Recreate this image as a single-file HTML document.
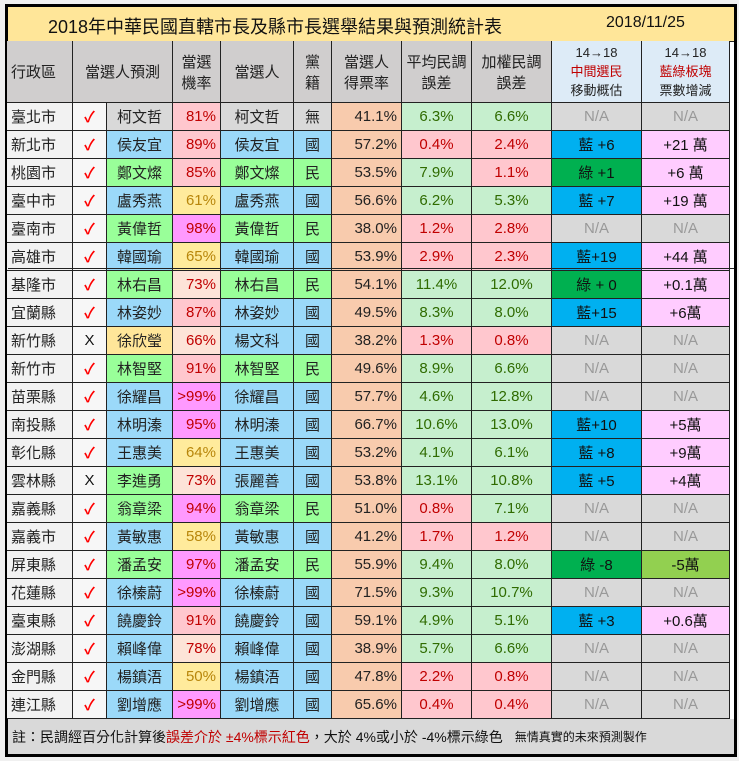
<!DOCTYPE html>
<html><head><meta charset="utf-8">
<style>
body{margin:0;background:#f0f0f0;width:739px;height:761px;overflow:hidden;font-family:"Liberation Sans","Noto Sans CJK TC",sans-serif;}
#wrap{position:absolute;left:5px;top:4px;width:726px;height:747px;border:3px solid #000;background:#fff;}
.c{position:absolute;box-sizing:border-box;border-right:1px solid #222;border-bottom:1px solid #222;display:flex;align-items:center;justify-content:center;font-size:15px;color:#222;white-space:nowrap;overflow:hidden;}
</style></head><body>
<div id="wrap"></div>
<script>
const regions=["臺北市","新北市","桃園市","臺中市","臺南市","高雄市","基隆市","宜蘭縣","新竹縣","新竹市","苗栗縣","南投縣","彰化縣","雲林縣","嘉義縣","嘉義市","屏東縣","花蓮縣","臺東縣","澎湖縣","金門縣","連江縣"];
const predicted=["柯文哲","侯友宜","鄭文燦","盧秀燕","黃偉哲","韓國瑜","林右昌","林姿妙","徐欣瑩","林智堅","徐耀昌","林明溱","王惠美","李進勇","翁章梁","黃敏惠","潘孟安","徐榛蔚","饒慶鈴","賴峰偉","楊鎮浯","劉增應"];
const predParty=["無","國","民","國","民","國","民","國","他","民","國","國","國","民","民","國","民","國","國","國","國","國"];
const correct=[1,1,1,1,1,1,1,1,0,1,1,1,1,0,1,1,1,1,1,1,1,1];
const probs=["81%","89%","85%","61%","98%","65%","73%","87%","66%","91%",">99%","95%","64%","73%","94%","58%","97%",">99%","91%","78%","50%",">99%"];
const probVals=[81,89,85,61,98,65,73,87,66,91,100,95,64,73,94,58,97,100,91,78,50,100];
const winners=["柯文哲","侯友宜","鄭文燦","盧秀燕","黃偉哲","韓國瑜","林右昌","林姿妙","楊文科","林智堅","徐耀昌","林明溱","王惠美","張麗善","翁章梁","黃敏惠","潘孟安","徐榛蔚","饒慶鈴","賴峰偉","楊鎮浯","劉增應"];
const parties=["無","國","民","國","民","國","民","國","國","民","國","國","國","國","民","國","民","國","國","國","國","國"];
const voteRates=[41.1,57.2,53.5,56.6,38.0,53.9,54.1,49.5,38.2,49.6,57.7,66.7,53.2,53.8,51.0,41.2,55.9,71.5,59.1,38.9,47.8,65.6];
const avgErr=[6.3,0.4,7.9,6.2,1.2,2.9,11.4,8.3,1.3,8.9,4.6,10.6,4.1,13.1,0.8,1.7,9.4,9.3,4.9,5.7,2.2,0.4];
const wErr=[6.6,2.4,1.1,5.3,2.8,2.3,12.0,8.0,0.8,6.6,12.8,13.0,6.1,10.8,7.1,1.2,8.0,10.7,5.1,6.6,0.8,0.4];
const swing=["N/A","藍 +6","綠 +1","藍 +7","N/A","藍+19","綠 + 0","藍+15","N/A","N/A","N/A","藍+10","藍 +8","藍 +5","N/A","N/A","綠 -8","N/A","藍 +3","N/A","N/A","N/A"];
const blockDelta=["N/A","+21 萬","+6 萬","+19 萬","N/A","+44 萬","+0.1萬","+6萬","N/A","N/A","N/A","+5萬","+9萬","+4萬","N/A","N/A","-5萬","N/A","+0.6萬","N/A","N/A","N/A"];

const W=document.getElementById('wrap');
const X=[0,66,100,166,214,287,325,395,465,545,635,723];
const OX=3;
function cell(col,span,y,h,html,bg,color,align,name){
  const d=document.createElement('div');
  d.className='c';
  const x0=X[col]-OX+2, x1=X[col+span]-OX+2;
  d.style.left=x0+'px';d.style.top=y+'px';d.style.width=(x1-x0)+'px';d.style.height=h+'px';
  d.style.background=bg||'#fff';
  if(color)d.style.color=color;
  if(align==='r'){d.style.justifyContent='flex-end';d.style.paddingRight='4px';}
  if(align==='l'){d.style.justifyContent='flex-start';d.style.paddingLeft='4px';}
  d.innerHTML=html;
  
  
  W.appendChild(d);return d;
}
// title
const t=document.createElement('div');
t.style.cssText='position:absolute;left:0;top:0;width:726px;height:34px;background:#ffe699;border-bottom:1px solid #222;font-size:18px;color:#111;';
t.innerHTML='<span style="position:absolute;left:40px;top:6px">2018年中華民國直轄市長及縣市長選舉結果與預測統計表</span><span style="position:absolute;left:598px;top:7px;font-size:16px">2018/11/25</span>';


W.appendChild(t);
// header
const HY=34,HH=62,G='#d0cece';
cell(0,1,HY,HH,'行政區',G,null,'l','header-region');
cell(1,2,HY,HH,'當選人預測',G,null,null,'header-prediction');
cell(3,1,HY,HH,'當選<br>機率',G,null,null,'header-probability').style.textAlign='center';
cell(4,1,HY,HH,'當選人',G,null,null,'header-winner');
cell(5,1,HY,HH,'黨<br>籍',G,null,null,'header-party').style.textAlign='center';
cell(6,1,HY,HH,'當選人<br>得票率',G,null,null,'header-vote-rate').style.textAlign='center';
cell(7,1,HY,HH,'平均民調<br>誤差',G,null,null,'header-avg-error').style.textAlign='center';
cell(8,1,HY,HH,'加權民調<br>誤差',G,null,null,'header-weighted-error').style.textAlign='center';
let h1=cell(9,1,HY,HH,'<div style="text-align:center;font-size:13px;line-height:19px">14→18<br><span style="color:#c00000">中間選民</span><br>移動概估</div>','#ddebf7',null,null,'header-swing');
let h2=cell(10,1,HY,HH,'<div style="text-align:center;font-size:13px;line-height:19px">14→18<br><span style="color:#c00000">藍綠板塊</span><br>票數增減</div>','#ddebf7',null,null,'header-block-delta');
const partyBg={"國":"#9bd9f9","民":"#99ff99","無":"#d9d9d9","他":"#ffe699"};
function probStyle(v){if(v>=94)return['#ff99ff','#c00000'];if(v<=65)return['#ffeb9c','#b8860b'];if(v<80)return['#fde4d8','#c00000'];return['#ffc7ce','#c00000'];}
function errStyle(v){return v<4?['#ffc7ce','#c00000']:['#c6efce','#2f6b00'];}
let y=HY+HH;
for(let i=0;i<regions.length;i++){
  const h=28;
  cell(0,1,y,h,regions[i],'#f2f2f2',null,'l','region-'+i);
  cell(1,1,y,h,correct[i]?'✓':'X','#f7f7f7',correct[i]?'#ff0000':'#111',null,'prediction-mark-'+i).style.fontWeight=correct[i]?'bold':'normal';
  cell(2,1,y,h,predicted[i],partyBg[predParty[i]],null,null,'predicted-name-'+i);
  const ps=probStyle(probVals[i]);
  cell(3,1,y,h,probs[i],ps[0],ps[1],'r','probability-'+i);
  cell(4,1,y,h,winners[i],partyBg[parties[i]],null,null,'winner-'+i);
  cell(5,1,y,h,parties[i],partyBg[parties[i]],null,null,'party-'+i);
  cell(6,1,y,h,voteRates[i].toFixed(1)+'%','#f8cbad',null,'r','vote-rate-'+i);
  const a=errStyle(avgErr[i]);cell(7,1,y,h,avgErr[i].toFixed(1)+'%',a[0],a[1],null,'avg-error-'+i);
  const b=errStyle(wErr[i]);cell(8,1,y,h,wErr[i].toFixed(1)+'%',b[0],b[1],null,'weighted-error-'+i);
  let sb='#d9d9d9',sc='#999';
  if(swing[i].startsWith('藍')){sb='#00b0f0';sc='#111';}else if(swing[i].startsWith('綠')){sb='#00b050';sc='#111';}
  cell(9,1,y,h,swing[i],sb,sc,null,'swing-'+i);
  let bb='#d9d9d9',bc='#999';
  if(blockDelta[i].startsWith('+')){bb='#ffccff';bc='#111';}else if(blockDelta[i].startsWith('-')){bb='#92d050';bc='#111';}
  cell(10,1,y,h,blockDelta[i],bb,bc,null,'block-delta-'+i);
  y+=h;
  if(i===5){const l=document.createElement('div');l.style.cssText='position:absolute;left:0;width:726px;height:1px;background:#222;top:'+(y-3)+'px';
  W.appendChild(l);}
}
const f=document.createElement('div');
f.style.cssText='position:absolute;left:0;top:'+y+'px;width:726px;height:'+(747-y)+'px;background:#d9d9d9;font-size:14px;color:#111;display:flex;align-items:center;padding-left:4px;box-sizing:border-box;white-space:nowrap;';
f.innerHTML='註：民調經百分化計算後<span style="color:#c00000">誤差介於 ±4%標示紅色</span>，大於 4%或小於 -4%標示綠色<span style="font-size:12px;margin-left:12px">無情真實的未來預測製作</span>';


W.appendChild(f);
</script>
</body></html>
